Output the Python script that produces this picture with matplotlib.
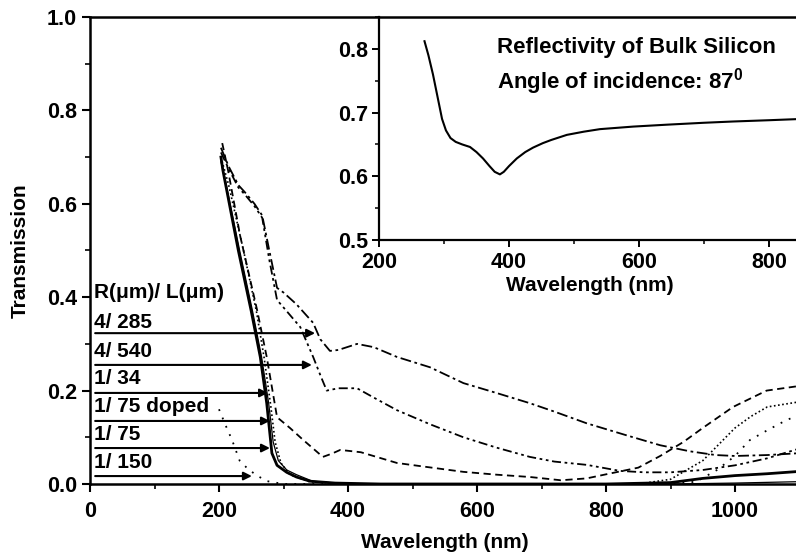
import matplotlib
matplotlib.use("Agg")
import matplotlib.pyplot as plt
from matplotlib.ticker import MultipleLocator

plt.rcParams['font.family'] = ['Liberation Sans', 'DejaVu Sans']
plt.rcParams['font.weight'] = 'bold'
plt.rcParams['mathtext.fontset'] = 'custom'
plt.rcParams['mathtext.rm'] = 'Liberation Sans:bold'
plt.rcParams['mathtext.bf'] = 'Liberation Sans:bold'

# ---- Transmission spectra of silicon wires, R(um)/L(um) ----
wl_285 = [203, 215, 230, 240, 255, 267, 278, 290, 300, 320, 346, 357, 372, 385, 414, 440,
          476, 527, 579, 630, 682, 720, 770, 830, 884, 930, 970, 1000, 1050, 1100]
tr_285 = [0.72, 0.68, 0.64, 0.625, 0.60, 0.575, 0.50, 0.42, 0.41, 0.385, 0.345, 0.31, 0.285,
          0.287, 0.30, 0.293, 0.272, 0.25, 0.216, 0.195, 0.173, 0.155, 0.13, 0.105, 0.083,
          0.07, 0.062, 0.060, 0.062, 0.066]

wl_540 = [203, 215, 230, 240, 255, 267, 278, 290, 305, 326, 346, 358, 367, 385, 414, 440,
          476, 527, 579, 630, 682, 720, 770, 822, 860, 900, 950, 1000, 1050, 1100]
tr_540 = [0.71, 0.675, 0.635, 0.62, 0.595, 0.57, 0.48, 0.394, 0.37, 0.336, 0.272, 0.23,
          0.20, 0.205, 0.205, 0.185, 0.158, 0.128, 0.10, 0.078, 0.058, 0.048, 0.041, 0.028,
          0.025, 0.025, 0.03, 0.04, 0.055, 0.076]

wl_34 = [205, 214, 233, 259, 274, 290, 310, 330, 361, 375, 388, 420, 476, 530, 579, 630,
         682, 730, 770, 801, 850, 884, 920, 950, 997, 1049, 1100]
tr_34 = [0.73, 0.672, 0.53, 0.373, 0.272, 0.143, 0.12, 0.095, 0.058, 0.065, 0.073, 0.068,
         0.045, 0.035, 0.026, 0.02, 0.015, 0.008, 0.012, 0.021, 0.035, 0.06, 0.09, 0.12,
         0.165, 0.20, 0.21]

wl_75d = [203, 206, 230, 250, 264, 274, 282, 290, 305, 320, 341, 380, 450, 600, 800, 900,
          950, 1000, 1050, 1100]
tr_75d = [0.70, 0.672, 0.50, 0.37, 0.272, 0.173, 0.066, 0.04, 0.025, 0.015, 0.006, 0.002,
          0.0, 0.0, 0.0, 0.003, 0.012, 0.018, 0.022, 0.027]

wl_75 = [203, 210, 232, 252, 266, 277, 284, 292, 305, 320, 345, 400, 700, 900, 1000, 1100]
tr_75 = [0.69, 0.65, 0.50, 0.37, 0.272, 0.173, 0.09, 0.05, 0.03, 0.02, 0.006, 0.0, 0.0,
         0.0, 0.002, 0.005]

wl_75b = [203, 215, 238, 258, 270, 280, 287, 296, 310, 340, 400, 850, 900, 950, 975, 1000,
          1025, 1050, 1100]
tr_75b = [0.70, 0.64, 0.50, 0.37, 0.27, 0.17, 0.09, 0.045, 0.02, 0.005, 0.0, 0.0, 0.01,
          0.05, 0.085, 0.12, 0.145, 0.165, 0.176]

wl_150 = [200, 212, 220, 232, 245, 260, 275, 300, 600, 900, 940, 972, 1000, 1023, 1050,
          1080, 1100]
tr_150 = [0.16, 0.12, 0.095, 0.05, 0.032, 0.017, 0.006, 0.0, 0.0, 0.0, 0.005, 0.03, 0.06,
          0.094, 0.115, 0.137, 0.148]

# labels of the wire geometries and the arrow tips pointing to their curves
labels = ["4/ 285", "4/ 540", "1/ 34", "1/ 75 doped", "1/ 75", "1/ 150"]
label_y = [0.345, 0.283, 0.225, 0.165, 0.105, 0.045]
arrow_y = [0.323, 0.255, 0.195, 0.135, 0.077, 0.017]
arrow_tip = [349, 344, 276, 279, 279, 251]

# ---- Inset: reflectivity of bulk silicon at 87 deg incidence ----
wl_refl = [270, 276, 283, 290, 297, 303, 310, 318, 328, 340, 350, 360, 370, 378, 386, 392,
           400, 412, 425, 437, 452, 465, 489, 515, 540, 591, 643, 700, 745, 800, 850]
refl = [0.812, 0.79, 0.76, 0.725, 0.69, 0.672, 0.66, 0.654, 0.65, 0.646, 0.638, 0.628,
        0.616, 0.607, 0.603, 0.607, 0.616, 0.628, 0.638, 0.645, 0.652, 0.657, 0.665, 0.670,
        0.674, 0.678, 0.681, 0.684, 0.686, 0.688, 0.690]

W, H = 796, 553
FS = 15.5
fig = plt.figure(figsize=(W / 100, H / 100), dpi=100)
ax = fig.add_axes([90 / W, 69 / H, 709.5 / W, 467 / H])

k = dict(color='black')
ax.plot(wl_285, tr_285, lw=1.3, ls=(0, (6, 2, 1.5, 2)), **k)
ax.plot(wl_540, tr_540, lw=1.3, ls=(0, (5, 2, 1.5, 2, 1.5, 2)), **k)
ax.plot(wl_34, tr_34, lw=1.3, ls=(0, (4, 2.5)), **k)
ax.plot(wl_75d, tr_75d, lw=2.0, ls='-', **k)
ax.plot(wl_75, tr_75, lw=0.9, ls='-', **k)
ax.plot(wl_75b, tr_75b, lw=1.2, ls=(0, (1, 1.5)), **k)
ax.plot(wl_150, tr_150, lw=1.3, ls=(0, (1, 4)), **k)

ax.text(6, 0.41, "R(\u03bcm)/ L(\u03bcm)", fontsize=15, fontweight='bold',
        va='center', ha='left')
for lab, ly, ay, tip in zip(labels, label_y, arrow_y, arrow_tip):
    ax.text(6, ly, lab, fontsize=15, fontweight='bold', va='center', ha='left')
    ax.annotate('', xy=(tip, ay), xytext=(8, ay),
                arrowprops=dict(arrowstyle='-|>', lw=1.5, color='black',
                                mutation_scale=12, shrinkA=0, shrinkB=0))

ax.set_xlim(0, 1100)
ax.set_ylim(0, 1.0)
ax.xaxis.set_major_locator(MultipleLocator(200))
ax.xaxis.set_minor_locator(MultipleLocator(100))
ax.yaxis.set_major_locator(MultipleLocator(0.2))
ax.yaxis.set_minor_locator(MultipleLocator(0.1))
ax.yaxis.set_major_formatter(plt.FormatStrFormatter('%.1f'))
ax.tick_params(which='major', direction='out', length=6, width=1.5, labelsize=FS)
ax.tick_params(axis='x', which='major', pad=6)
ax.tick_params(which='minor', direction='out', length=3.5, width=1.2)
ax.spines['right'].set_visible(False)
for s in ('left', 'bottom', 'top'):
    ax.spines[s].set_linewidth(1.8)
ax.set_xlabel("Wavelength (nm)", fontsize=15, fontweight='bold', labelpad=8)
ax.set_ylabel("Transmission", fontsize=15, fontweight='bold', labelpad=12)

# inset
ins = fig.add_axes([379 / W, 313 / H, 422.5 / W, 223 / H], facecolor='none')
ins.plot(wl_refl, refl, color='black', lw=1.5)
ins.set_xlim(200, 850)
ins.set_ylim(0.5, 0.85)
ins.xaxis.set_major_locator(MultipleLocator(200))
ins.xaxis.set_minor_locator(MultipleLocator(100))
ins.yaxis.set_major_locator(MultipleLocator(0.1))
ins.yaxis.set_minor_locator(MultipleLocator(0.05))
ins.yaxis.set_major_formatter(plt.FormatStrFormatter('%.1f'))
ins.tick_params(which='major', direction='out', length=5, width=1.4, labelsize=FS, pad=3)
ins.tick_params(axis='x', which='major', pad=4)
ins.tick_params(which='minor', direction='out', length=3, width=1.1)
ins.spines['right'].set_visible(False)
ins.spines['top'].set_visible(False)
for s in ('left', 'bottom'):
    ins.spines[s].set_linewidth(1.6)
ins.set_xlabel("Wavelength (nm)", fontsize=15, fontweight='bold', labelpad=2)
ins.text(0.279, 0.865, "Reflectivity of Bulk Silicon", transform=ins.transAxes,
         fontsize=16, fontweight='bold', va='center', ha='left')
ins.text(0.279, 0.709, r"Angle of incidence: 87$^{0}$", transform=ins.transAxes,
         fontsize=16, fontweight='bold', va='center', ha='left')

fig.savefig("out.png", dpi=100)
